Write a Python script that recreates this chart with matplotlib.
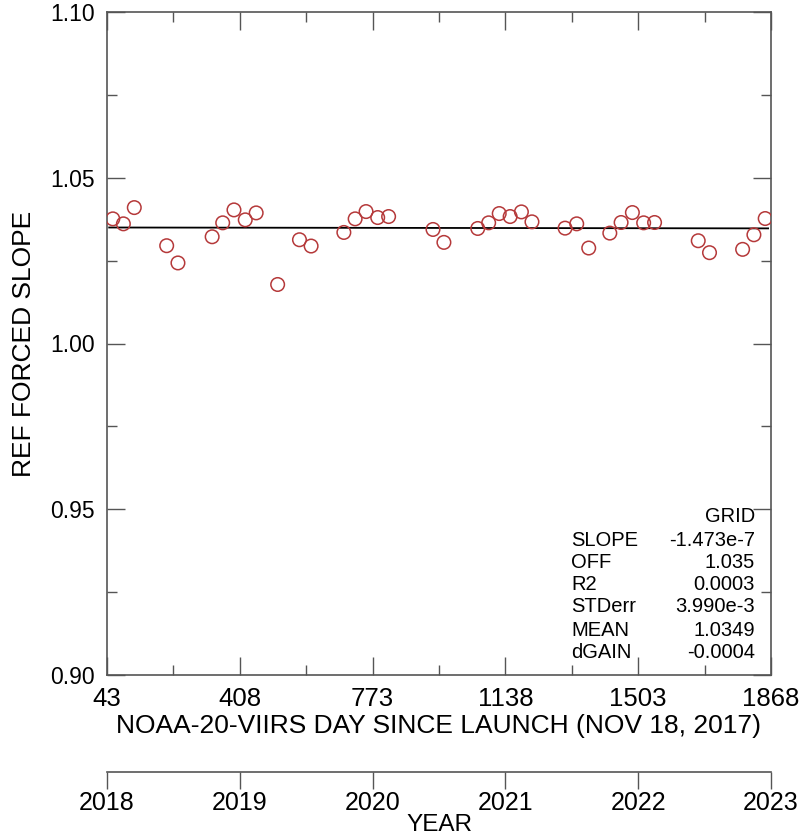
import matplotlib
matplotlib.use('Agg')
import matplotlib.pyplot as plt
import numpy as np

plt.rcParams['font.family'] = ['Liberation Sans', 'DejaVu Sans']

# days since launch and ref forced slope
days = [59, 88, 118, 207, 238, 332, 361, 392, 423, 453, 512, 572, 604,
        694, 725, 755, 787, 817, 939, 969, 1062, 1092, 1121, 1151, 1182, 1211,
        1302, 1334, 1367, 1425, 1456, 1487, 1518, 1548, 1668, 1699, 1790, 1821, 1852]
slope = [1.0376, 1.0361, 1.0410, 1.0295, 1.0243, 1.0322, 1.0364, 1.0403, 1.0373, 1.0394,
         1.0178, 1.0313, 1.0294, 1.0335, 1.0376, 1.0398, 1.0380, 1.0383, 1.0344, 1.0305,
         1.0347, 1.0364, 1.0392, 1.0383, 1.0397, 1.0367, 1.0348, 1.0361, 1.0288, 1.0333,
         1.0365, 1.0395, 1.0364, 1.0365, 1.0310, 1.0274, 1.0284, 1.0328, 1.0377]

fit_slope = -1.473e-7
fit_off = 1.035

day_ticks = [43, 408, 773, 1138, 1503, 1868]
years = [2018, 2019, 2020, 2021, 2022, 2023]

stat_names = ['SLOPE', 'OFF', 'R2', 'STDerr', 'MEAN', 'dGAIN']
stat_vals = ['-1.473e-7', '1.035', '0.0003', '3.990e-3', '1.0349', '-0.0004']

W, H = 804, 840
fig = plt.figure(figsize=(W / 100, H / 100), dpi=100)

L, R, T, B = 107, 771, 12, 675
ax = fig.add_axes([L / W, 1 - B / H, (R - L) / W, (B - T) / H])

ax.scatter(days, slope, s=95, facecolors='none', edgecolors='#b5393a', linewidths=1.1, zorder=3)
xl = np.array([days[0] - 10, days[-1] + 8])
ax.plot(xl, fit_off + fit_slope * xl, color='black', lw=1.3, zorder=2)

ax.set_xlim(43, 1868)
ax.set_ylim(0.90, 1.10)
ax.set_xticks(day_ticks)
ax.set_xticks(np.arange(43 + 182.5, 1868, 365), minor=True)
ax.set_yticks([0.90, 0.95, 1.00, 1.05, 1.10])
ax.set_yticklabels(['0.90', '0.95', '1.00', '1.05', '1.10'])
ax.set_yticks(np.arange(0.925, 1.10, 0.05), minor=True)
ax.tick_params(which='both', direction='in', top=True, right=True, width=1, color='#555555')
ax.tick_params(which='major', length=13)
ax.tick_params(which='minor', length=7)
ax.tick_params(axis='x', labelsize=18.5, pad=9)
ax.tick_params(axis='y', labelsize=16.5, pad=9)
for sp in ax.spines.values():
    sp.set_color('#555555')
    sp.set_linewidth(1.2)

ax.set_xlabel('NOAA-20-VIIRS DAY SINCE LAUNCH (NOV 18, 2017)', fontsize=19, labelpad=2)
ax.set_ylabel('REF FORCED SLOPE', fontsize=19, labelpad=10)

# stats block
def axc(px, py):
    return (px - L) / (R - L), (B - py) / (B - T)

ax.text(*axc(755, 516), 'GRID', fontsize=14.5, ha='right', va='center', transform=ax.transAxes)
rows_y = [540, 562, 584, 606, 630, 653]
for name, val, py in zip(stat_names, stat_vals, rows_y):
    ax.text(*axc(571, py), name, fontsize=14.5, ha='left', va='center', transform=ax.transAxes)
    ax.text(*axc(755, py), val, fontsize=14.5, ha='right', va='center', transform=ax.transAxes)

# year axis
ya = fig.add_axes([L / W, 1 - 772 / H, (R - L) / W, 0.0001])
ya.set_xlim(2018, 2023)
ya.set_xticks(years)
ya.set_yticks([])
for k in ['top', 'left', 'right']:
    ya.spines[k].set_visible(False)
ya.spines['bottom'].set_color('#555555')
ya.spines['bottom'].set_linewidth(1.2)
ya.patch.set_alpha(0)
ya.tick_params(axis='x', direction='out', length=12, width=1, color='#555555', labelsize=18, pad=2)
ya.set_xlabel('YEAR', fontsize=17.5, labelpad=-1)

fig.savefig('out.png', dpi=100)
